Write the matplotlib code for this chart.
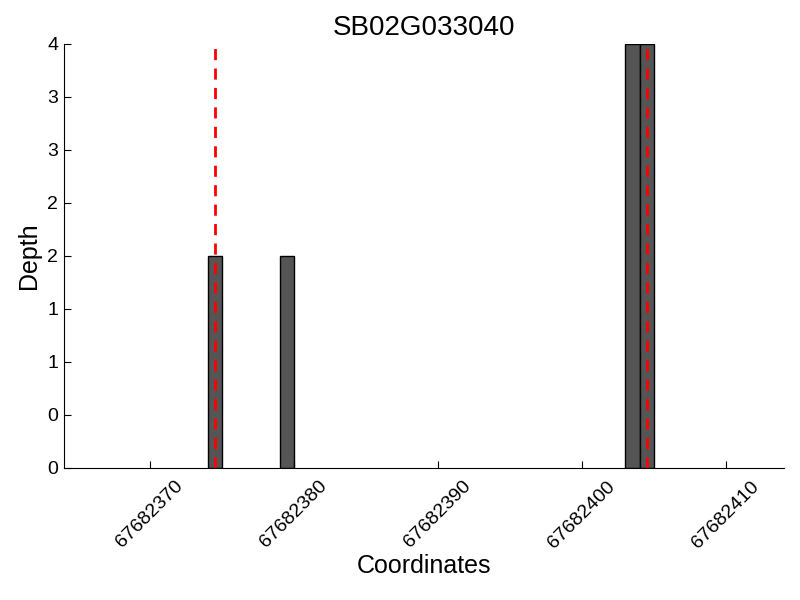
import numpy as np
import matplotlib.pyplot as plt
from matplotlib.ticker import FormatStrFormatter, MultipleLocator

plt.rcParams['font.family'] = ['Liberation Sans', 'DejaVu Sans']

gene = 'SB02G033040'
positions = [67682374, 67682379, 67682403, 67682404]
depths = [2, 2, 4, 4]
snp_sites = [67682374.5, 67682404.5]

fig = plt.figure(figsize=(8, 6), dpi=100)
ax = fig.add_axes([0.0795, 0.22, 0.9, 0.707])

ax.bar(positions, depths, width=1, align='edge', color='#555555',
       edgecolor='black', linewidth=1)
for s in snp_sites:
    ax.plot([s, s], [0, 4], color='red', linestyle='--', linewidth=2, dashes=(4, 3))

ax.set_xlim(67682364, 67682414)
ax.set_ylim(0, 4)
ax.xaxis.set_major_locator(MultipleLocator(10))
ax.xaxis.set_major_formatter(FormatStrFormatter('%d'))
ax.yaxis.set_major_locator(MultipleLocator(0.5))
ax.yaxis.set_major_formatter(FormatStrFormatter('%d'))

ax.spines['top'].set_visible(False)
ax.spines['right'].set_visible(False)
ax.tick_params(direction='in', length=5, labelsize=14, top=False, right=False)
ax.tick_params(axis='x', pad=7)
ax.tick_params(axis='y', pad=4)
plt.setp(ax.get_xticklabels(), rotation=45)

ax.set_xlabel('Coordinates', fontsize=18, labelpad=2)
ax.set_ylabel('Depth', fontsize=18, labelpad=4)
ax.set_title(gene, fontsize=20)

fig.savefig('out.png', dpi=100)
